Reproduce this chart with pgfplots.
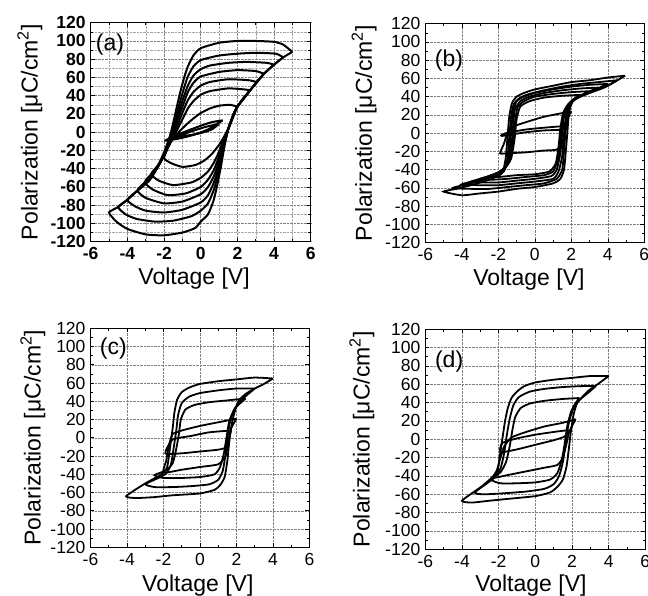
\documentclass[border=0pt]{standalone}
\usepackage{fontspec}
\setmainfont{Liberation Sans}
\usepackage{pgfplots}
\pgfplotsset{compat=1.18}

\newcommand\tickfont{\fontsize{17.5}{17.5}\selectfont}
\newcommand\tickfontbf{\fontsize{17.5}{17.5}\bfseries\selectfont}
\newcommand\labfont{\fontsize{23}{23}\selectfont}

\pgfplotsset{
  panel/.style={
    scale only axis, width=219pt, height=219pt,
    xmin=-6, xmax=6, ymin=-120, ymax=120,
    xtick={-6,-4,-2,0,2,4,6},
    xticklabels={-6,-4,-2,0,2,4,6},
    ytick={-120,-100,-80,-60,-40,-20,0,20,40,60,80,100,120},
    yticklabels={-120,-100,-80,-60,-40,-20,0,20,40,60,80,100,120},
    minor x tick num=1, minor y tick num=1,
    tick align=inside, major tick length=4pt, minor tick length=2.5pt,
    grid=major,
    major grid style={densely dotted, black!50, line width=0.5pt},
    axis line style={line width=0.8pt},
    tick style={black, line width=0.6pt},
    tick label style={font=\tickfont},
    xticklabel style={yshift=-2.5pt},
    yticklabel style={xshift=-1.5pt},
    xlabel={Voltage [V]},
    ylabel={Polarization [μC/cm\textsuperscript{2}]},
    label style={font=\labfont},
    cycle list={{black, no markers}},
    every axis plot post/.append style={black, mark=none, line width=1.8pt, smooth, tension=0.35},
  },
}

\begin{document}
\begin{tikzpicture}
\useasboundingbox (0,0) rectangle (648pt,596pt);

% ---------- (a)
\begin{axis}[panel, at={(90.7pt,354.3pt)}, anchor=south west,
  width=220pt,
  grid=both,
  minor grid style={densely dotted, black!35, line width=0.4pt},
  tick label style={font=\tickfontbf},
  xlabel style={at={(axis description cs:0.47,-0.195)}, anchor=base},
  ylabel style={at={(axis description cs:-0.276,0.5)}, anchor=center},
  every axis plot post/.append style={line width=2pt},
]
\addplot coordinates {(5.0,88) (4.5,96) (4.0,99) (3.0,100) (2.0,100) (1.0,98) (0.0,92) (-0.4,84) (-0.7,72) (-0.9,60) (-1.1,45) (-1.3,28) (-1.5,10) (-1.7,-6) (-2.0,-22) (-2.4,-40) (-2.8,-53) (-3.45,-64) (-4.0,-74) (-4.5,-82) (-5.0,-88) (-4.6,-98) (-4.0,-106) (-3.0,-112) (-2.0,-113) (-1.0,-110) (-0.3,-105) (0.0,-98) (0.4,-90) (0.7,-75) (0.9,-58) (1.1,-38) (1.3,-15) (1.5,3) (1.8,20) (2.0,28) (2.7,46) (3.05,55) (3.45,64) (4.0,74) (4.5,82) (5.0,88)};
\addplot coordinates {(4.5,82) (4.1,86) (3.0,87) (2.0,86) (1.0,84) (0.0,79) (-0.4,72) (-0.7,61) (-0.9,49) (-1.1,35) (-1.3,21) (-1.5,7) (-1.7,-6) (-2.0,-24) (-2.4,-40) (-2.8,-52) (-3.45,-64) (-4.0,-74) (-4.5,-82) (-4.1,-90) (-3.5,-95) (-2.5,-98) (-1.5,-97) (-0.5,-92) (0.0,-86) (0.4,-78) (0.7,-64) (0.9,-50) (1.1,-32) (1.3,-13) (1.5,4) (1.8,20) (2.0,28) (2.7,46) (3.45,64) (4.0,74) (4.5,82)};
\addplot coordinates {(4.0,74) (3.6,76) (2.5,77) (1.5,76) (0.5,73) (0.0,69) (-0.4,62) (-0.7,51) (-0.9,40) (-1.1,28) (-1.3,15) (-1.5,3) (-1.7,-8) (-2.0,-25) (-2.4,-40) (-3.05,-55) (-3.45,-64) (-4.0,-74) (-3.6,-81) (-3.0,-86) (-2.0,-88) (-1.0,-85) (0.0,-77) (0.4,-69) (0.7,-56) (0.9,-44) (1.1,-28) (1.3,-12) (1.5,3) (1.8,20) (2.0,28) (2.7,46) (3.45,64) (4.0,74)};
\addplot coordinates {(3.45,64) (3.0,67) (2.0,68) (1.0,66) (0.0,61) (-0.4,54) (-0.7,44) (-0.9,33) (-1.1,22) (-1.3,11) (-1.5,0) (-1.7,-10) (-2.0,-25) (-2.4,-40) (-3.05,-55) (-3.45,-64) (-3.0,-72) (-2.0,-78) (-1.0,-76) (0.0,-68) (0.4,-60) (0.7,-49) (0.9,-38) (1.1,-24) (1.3,-10) (1.5,3) (1.8,20) (2.0,28) (2.7,46) (3.45,64)};
\addplot coordinates {(3.05,55) (2.6,57) (1.5,58) (0.5,55) (0.0,51) (-0.4,44) (-0.7,35) (-0.9,26) (-1.1,16) (-1.3,6) (-1.5,-3) (-1.7,-12) (-2.0,-26) (-2.4,-40) (-2.7,-46) (-3.05,-55) (-2.6,-63) (-1.8,-69) (-0.8,-67) (0.0,-60) (0.4,-52) (0.7,-42) (0.9,-32) (1.1,-20) (1.3,-8) (1.5,3) (1.8,20) (2.0,28) (2.7,46) (3.05,55)};
\addplot coordinates {(2.7,46) (2.3,47) (1.5,48) (0.5,45) (0.0,41) (-0.4,34) (-0.7,26) (-0.9,18) (-1.1,10) (-1.3,2) (-1.5,-6) (-1.8,-16) (-2.0,-26) (-2.4,-38) (-2.7,-46) (-2.3,-53) (-1.5,-58) (-0.5,-55) (0.0,-50) (0.4,-43) (0.7,-34) (0.9,-26) (1.1,-16) (1.3,-6) (1.5,3) (1.8,20) (2.2,34) (2.7,46)};
\addplot coordinates {(2.0,28) (1.6,30) (1.0,29) (0.5,26) (0.0,21) (-0.4,15) (-0.8,8) (-1.2,0) (-1.6,-10) (-2.0,-28) (-1.6,-34) (-1.0,-38) (-0.3,-36) (0.2,-31) (0.6,-24) (1.0,-14) (1.3,-4) (1.6,8) (2.0,28)};
\addplot coordinates {(1.2,13) (0.6,11) (0.0,7) (-0.8,1) (-1.6,-6) (-1.9,-9) (-1.2,-7) (-0.4,-3) (0.4,3) (1.2,13)};
\addplot coordinates {(1.0,9) (0.3,6) (-0.5,1) (-1.3,-5) (-1.6,-7) (-0.8,-4) (0.0,-1) (0.6,3) (1.0,9)};
\node[font=\labfont] at (axis cs:-4.95,95.6) {(a)};
\end{axis}

% ---------- (b)
\begin{axis}[panel, at={(425.3pt,353.3pt)}, anchor=south west,
  xlabel style={at={(axis description cs:0.473,-0.195)}, anchor=base},
  ylabel style={at={(axis description cs:-0.279,0.5)}, anchor=center},
]
\addplot coordinates {(4.95,63) (4.0,61) (3.0,58) (2.0,56) (1.0,52) (0.0,48) (-0.6,44) (-1.0,40) (-1.25,33) (-1.4,18) (-1.5,-5) (-1.6,-28) (-1.8,-44) (-2.5,-51) (-3.5,-57) (-4.3,-61) (-5.0,-64) (-4.0,-68) (-3.0,-66) (-2.0,-64) (-1.0,-61) (0.0,-59) (1.0,-55) (1.4,-50) (1.6,-40) (1.7,-20) (1.8,5) (1.85,18) (1.95,29) (2.2,38) (3.0,45) (4.0,52) (4.95,63)};
\addplot coordinates {(4.5,58) (3.5,56) (2.5,54) (1.5,51) (0.5,47) (-0.3,43) (-0.8,39) (-1.15,32) (-1.3,18) (-1.4,-5) (-1.5,-27) (-1.7,-42) (-2.5,-49) (-3.5,-55) (-4.5,-60) (-3.5,-61) (-2.5,-61) (-1.5,-59) (-0.5,-57) (0.5,-55) (1.2,-50) (1.5,-40) (1.6,-20) (1.7,5) (1.8,20) (1.95,32) (2.3,38) (3.0,44) (3.8,50) (4.5,58)};
\addplot coordinates {(4.0,54) (3.0,53) (2.0,51) (1.0,48) (0.0,44) (-0.6,40) (-1.0,35) (-1.2,22) (-1.3,0) (-1.4,-22) (-1.6,-38) (-2.2,-46) (-3.0,-51) (-4.0,-56) (-3.0,-57) (-2.0,-57) (-1.0,-55) (0.0,-53) (1.0,-50) (1.3,-42) (1.5,-25) (1.6,0) (1.7,18) (1.85,30) (2.2,38) (3.0,45) (4.0,54)};
\addplot coordinates {(3.5,50) (2.5,49) (1.5,47) (0.5,44) (-0.3,40) (-0.8,35) (-1.1,25) (-1.2,5) (-1.3,-18) (-1.5,-35) (-2.0,-43) (-2.8,-49) (-3.5,-53) (-2.8,-54) (-2.0,-54) (-1.0,-52) (0.0,-50) (0.9,-47) (1.2,-40) (1.4,-22) (1.5,0) (1.6,18) (1.8,30) (2.2,38) (2.9,45) (3.5,50)};
\addplot coordinates {(3.0,46) (2.0,45) (1.0,43) (0.0,40) (-0.6,35) (-0.95,28) (-1.1,10) (-1.2,-12) (-1.4,-32) (-1.9,-42) (-2.5,-47) (-3.0,-50) (-2.4,-51) (-1.5,-50) (-0.5,-48) (0.5,-46) (1.0,-42) (1.25,-30) (1.4,-10) (1.5,10) (1.65,25) (1.9,33) (2.4,40) (3.0,46)};
\addplot coordinates {(2.5,42) (1.5,41) (0.5,39) (-0.3,35) (-0.8,29) (-1.0,15) (-1.1,-5) (-1.3,-28) (-1.7,-39) (-2.1,-44) (-2.5,-47) (-2.0,-48) (-1.0,-46) (0.0,-45) (0.8,-42) (1.15,-33) (1.3,-15) (1.4,5) (1.55,22) (1.8,31) (2.1,37) (2.5,42)};
\addplot coordinates {(2.0,24) (1.5,22) (0.5,18) (-0.5,12) (-1.2,7) (-1.5,0) (-1.7,-12) (-1.9,-22) (-1.5,-22) (-0.5,-21) (0.5,-19) (1.2,-18) (1.5,-10) (1.7,5) (1.85,18) (2.0,24)};
\addplot coordinates {(1.7,8) (0.5,6) (-0.5,4) (-1.6,0) (-1.8,-3) (-0.5,1) (0.5,3) (1.5,4) (1.7,8)};
\node[font=\labfont] at (axis cs:-4.7,80) {(b)};
\end{axis}

% ---------- (c)
\begin{axis}[panel, at={(90.5pt,48.7pt)}, anchor=south west,
  xlabel style={at={(axis description cs:0.49,-0.2)}, anchor=base},
  ylabel style={at={(axis description cs:-0.263,0.5)}, anchor=center},
]
\addplot coordinates {(4.0,65) (3.0,66) (2.0,64) (1.0,62) (0.0,59) (-0.6,55) (-1.0,50) (-1.25,42) (-1.4,28) (-1.5,10) (-1.65,-12) (-1.8,-32) (-2.1,-40) (-3.0,-50) (-4.05,-64) (-3.5,-66) (-2.5,-65) (-1.5,-63) (0.0,-61) (0.8,-57) (1.1,-52) (1.35,-43) (1.5,-25) (1.6,-5) (1.7,10) (1.85,25) (2.1,40) (2.5,48) (3.0,54) (3.5,59) (4.0,65)};
\addplot coordinates {(3.0,54) (2.0,54) (1.0,52) (0.0,49) (-0.6,45) (-1.0,38) (-1.2,25) (-1.3,8) (-1.45,-12) (-1.6,-30) (-1.9,-40) (-2.5,-46) (-3.0,-51) (-2.5,-54) (-1.5,-54) (-0.5,-53) (0.5,-51) (1.0,-46) (1.25,-36) (1.4,-18) (1.5,0) (1.65,18) (1.9,32) (2.3,42) (3.0,54)};
\addplot coordinates {(2.5,43) (1.5,41) (0.5,39) (-0.3,36) (-0.8,31) (-1.05,20) (-1.15,5) (-1.3,-12) (-1.5,-28) (-1.9,-36) (-2.5,-41) (-2.0,-44) (-1.0,-44) (0.0,-43) (0.8,-40) (1.1,-32) (1.3,-18) (1.45,0) (1.6,18) (1.85,30) (2.1,36) (2.5,43)};
\addplot coordinates {(2.0,21) (1.0,17) (0.0,13) (-1.0,8) (-1.5,4) (-1.7,-8) (-1.85,-25) (-2.0,-38) (-1.0,-35) (0.0,-32) (1.0,-29) (1.4,-20) (1.55,-5) (1.7,10) (2.0,21)};
\addplot coordinates {(1.7,8) (0.5,6) (-0.5,2) (-1.5,-2) (-1.9,-17) (-1.0,-17) (0.0,-15) (1.0,-13) (1.5,-10) (1.6,0) (1.7,8)};
\node[font=\labfont] at (axis cs:-4.75,97.4) {(c)};
\end{axis}

% ---------- (d)
\begin{axis}[panel, at={(425.3pt,46.7pt)}, anchor=south west,
  width=220pt, height=220pt,
  xlabel style={at={(axis description cs:0.48,-0.19)}, anchor=base},
  ylabel style={at={(axis description cs:-0.288,0.5)}, anchor=center},
]
\addplot coordinates {(4.0,69) (3.0,69) (2.0,67) (1.0,65) (0.0,62) (-0.6,58) (-1.0,52) (-1.3,45) (-1.5,34) (-1.65,20) (-1.8,0) (-1.95,-20) (-2.1,-36) (-2.9,-51) (-4.0,-67) (-3.45,-69) (-2.5,-67) (-1.5,-65) (0.0,-62) (0.8,-58) (1.2,-52) (1.5,-44) (1.7,-30) (1.82,-12) (1.95,10) (2.1,28) (2.3,40) (2.9,53) (3.4,60) (4.0,69)};
\addplot coordinates {(3.3,58) (2.5,58) (1.5,57) (0.5,55) (-0.3,52) (-0.9,46) (-1.2,37) (-1.4,22) (-1.55,5) (-1.7,-15) (-1.9,-32) (-2.3,-43) (-3.3,-58) (-2.8,-60) (-1.8,-59) (-0.5,-57) (0.5,-54) (1.0,-49) (1.3,-40) (1.5,-25) (1.65,-5) (1.8,15) (2.0,30) (2.3,41) (2.9,51) (3.3,58)};
\addplot coordinates {(2.4,45) (1.5,44) (0.5,42) (-0.3,39) (-0.8,34) (-1.1,24) (-1.25,10) (-1.4,-8) (-1.6,-25) (-1.9,-36) (-2.4,-44) (-1.9,-48) (-1.0,-48) (0.0,-47) (0.8,-44) (1.2,-37) (1.45,-22) (1.6,-5) (1.75,15) (1.95,30) (2.15,38) (2.4,45)};
\addplot coordinates {(2.2,22) (1.5,18) (0.5,14) (-0.5,8) (-1.3,2) (-1.7,-8) (-1.9,-20) (-2.1,-34) (-2.3,-42) (-1.5,-39) (-0.5,-35) (0.5,-31) (1.2,-28) (1.5,-20) (1.7,-5) (1.85,8) (2.2,22)};
\addplot coordinates {(1.8,10) (1.0,8) (0.0,5) (-1.0,1) (-1.8,-4) (-1.9,-14) (-1.0,-11) (0.0,-6) (1.0,-1) (1.6,3) (1.8,10)};
\node[font=\labfont] at (axis cs:-4.7,85) {(d)};
\end{axis}
\end{tikzpicture}
\end{document}
